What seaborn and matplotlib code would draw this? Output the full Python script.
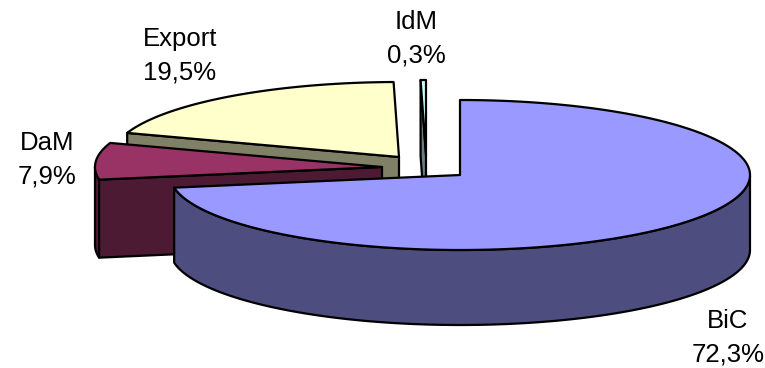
import numpy as np
import matplotlib
matplotlib.use("Agg")
import matplotlib.pyplot as plt
from matplotlib.patches import Polygon
import seaborn as sns

sns.set_theme(style="white")
plt.rcParams["font.family"] = ["Liberation Sans", "DejaVu Sans"]

# Slices in clockwise order starting from twelve o'clock
labels = ["BiC", "DaM", "Export", "IdM"]
shares = [72.3, 7.9, 19.5, 0.3]
top_colors = ["#9999FF", "#993366", "#FFFFCC", "#CCFFFF"]
side_colors = ["#4D4D80", "#4D1A33", "#808066", "#668080"]

# The pie is laid out in pixel units with y pointing down.
W, H = 765, 368
depths = [75, 78, 76, 76]
centres = [(460, 175), (382, 167), (399, 157), (426, 155)]
radii = [(290, 75), (287, 75), (287, 75), (287, 75)]
label_pos = [(728, 336), (47, 158), (180, 54), (416, 37)]

fig = plt.figure(figsize=(W / 100, H / 100), dpi=100)
ax = fig.add_axes([0, 0, 1, 1])
ax.set_xlim(0, W)
ax.set_ylim(H, 0)
ax.axis("off")


def point(c, r, theta):
    return c[0] + r[0] * np.sin(theta), c[1] - r[1] * np.cos(theta)


def draw_slice(c, r, depth, a0, a1, top, side, z):
    n = max(int((a1 - a0) * 80), 4)
    t = np.linspace(a0, a1, n)
    rim = np.column_stack(point(c, r, t))
    drop = np.array([0, depth])
    ec = dict(edgecolor="black", linewidth=1.6, joinstyle="round")
    # outer wall only where the rim faces the viewer
    vis = np.cos(t) <= 0.001
    if vis.sum() > 1:
        seg = rim[vis]
        wall = np.vstack([seg, (seg + drop)[::-1]])
        ax.add_patch(Polygon(wall, closed=True, facecolor=side, zorder=z, **ec))
    # cut faces from the hub to the rim, skipping those turned away
    hub = np.array(c, float)
    for a, visible in ((a0, np.sin(a0) < -1e-6), (a1, np.sin(a1) > 1e-6)):
        if visible:
            e = np.array(point(c, r, a))
            face = np.array([hub, e, e + drop, hub + drop])
            ax.add_patch(Polygon(face, closed=True, facecolor=side, zorder=z, **ec))
    ax.add_patch(Polygon(np.vstack([[c], rim]), closed=True, facecolor=top, zorder=z + 0.5, **ec))


edges = np.cumsum([0] + shares) / 100 * 2 * np.pi
# back slices first so the front ones cover them
order = [3, 2, 1, 0]
for rank, i in enumerate(order):
    draw_slice(centres[i], radii[i], depths[i], edges[i], edges[i + 1], top_colors[i], side_colors[i], 2 + rank)

for i, name in enumerate(labels):
    text = f"{name}\n{shares[i]:.1f}%".replace(".", ",")
    x, y = label_pos[i]
    ax.text(x, y + 1.5, text, ha="center", va="center", fontsize=18.5, color="black", linespacing=1.5, zorder=20)

fig.savefig("out.png", dpi=100, facecolor="white")
